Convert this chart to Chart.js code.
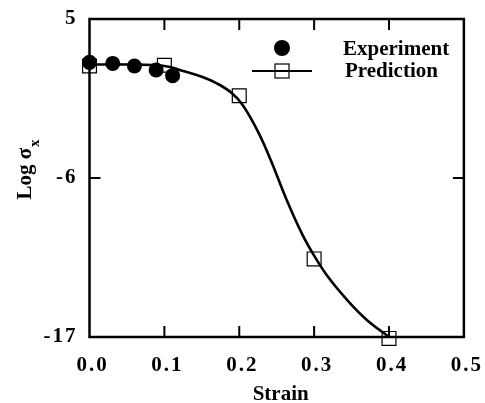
<!DOCTYPE html>
<html>
<head>
<meta charset="utf-8">
<script src="https://cdn.jsdelivr.net/npm/chart.js@4.4.0/dist/chart.umd.min.js"></script>
<style>
    html, body { margin: 0; padding: 0; background: #fff; }
</style>
</head>
<body>
<canvas id="myChart" width="485" height="403"></canvas>
<script>
// data
var expStrain = [0.0, 0.031, 0.06, 0.089, 0.111];
var expLog = [2.0, 1.93, 1.75, 1.47, 1.08];

var predStrain = [0.0, 0.1, 0.2, 0.3, 0.4];
var predLog = [1.75, 1.8, -0.31, -11.6, -17.1];

// prediction curve
var curveStrain = [0.0, 0.05, 0.1, 0.125, 0.15, 0.17, 0.19, 0.205, 0.225, 0.242, 0.262, 0.284, 0.302, 0.32, 0.346, 0.37, 0.4];
var curveLog = [1.85, 1.85, 1.75, 1.4, 1.0, 0.55, -0.12, -0.99, -2.79, -4.75, -7.35, -9.88, -11.54, -12.94, -14.55, -15.8, -17.0];

var xTicks = [0.0, 0.1, 0.2, 0.3, 0.4, 0.5];
var yTicks = [5, -6, -17];

var serif = "'Liberation Serif', 'Times New Roman', serif";

function toPoints(xs, ys) {
    return xs.map(function(x, i) { return {x: x, y: ys[i]}; });
}

// frame, inward ticks, legend and axis titles
var decorPlugin = {
    id: 'decor',
    beforeDraw: function(chart) {
        chart.ctx.letterSpacing = '2px';
    },
    beforeDatasetsDraw: function(chart) {
        chart.ctx.letterSpacing = '0px';
    },
    afterDraw: function(chart) {
        var ctx = chart.ctx;
        var a = chart.chartArea;
        var xs = chart.scales.x;
        var ys = chart.scales.y;
        ctx.save();
        ctx.letterSpacing = '0px';
        ctx.strokeStyle = '#000';
        ctx.lineWidth = 2.5;
        ctx.strokeRect(a.left, a.top, a.right - a.left, a.bottom - a.top);

        var tl = 11;
        ctx.lineWidth = 2;
        ctx.beginPath();
        xTicks.forEach(function(v) {
            if (v <= xs.min || v >= xs.max) return;
            var px = xs.getPixelForValue(v);
            ctx.moveTo(px, a.bottom); ctx.lineTo(px, a.bottom - tl);
            ctx.moveTo(px, a.top); ctx.lineTo(px, a.top + tl);
        });
        yTicks.forEach(function(v) {
            if (v <= ys.min || v >= ys.max) return;
            var py = ys.getPixelForValue(v);
            ctx.moveTo(a.left, py); ctx.lineTo(a.left + tl, py);
            ctx.moveTo(a.right, py); ctx.lineTo(a.right - tl, py);
        });
        ctx.stroke();

        // legend
        ctx.fillStyle = '#000';
        ctx.beginPath();
        ctx.arc(282, 48, 8, 0, Math.PI * 2);
        ctx.fill();
        ctx.lineWidth = 2;
        ctx.beginPath();
        ctx.moveTo(252, 71); ctx.lineTo(312, 71);
        ctx.stroke();
        ctx.lineWidth = 1.2;
        ctx.strokeRect(275, 64, 14, 14);
        ctx.font = 'bold 21px ' + serif;
        ctx.textAlign = 'left';
        ctx.textBaseline = 'alphabetic';
        ctx.fillText('Experiment', 343, 55);
        ctx.fillText('Prediction', 345, 77);

        // x axis title
        ctx.textAlign = 'center';
        ctx.fillText('Strain', (a.left + a.right) / 2 + 4, 400);

        // y axis title with subscript
        ctx.textAlign = 'left';
        ctx.translate(31, 170);
        ctx.rotate(-Math.PI / 2);
        var main = 'Log \u03c3';
        var w1 = ctx.measureText(main).width;
        ctx.font = 'bold 15px ' + serif;
        var w2 = ctx.measureText('x').width;
        var x0 = -(w1 + w2) / 2;
        ctx.font = 'bold 21px ' + serif;
        ctx.fillText(main, x0, 0);
        ctx.font = 'bold 15px ' + serif;
        ctx.fillText('x', x0 + w1 + 1, 8);
        ctx.restore();
    }
};

var ctx = document.getElementById('myChart').getContext('2d');
var myChart = new Chart(ctx, {
    type: 'scatter',
    data: {
        datasets: [{
            label: 'Experiment',
            data: toPoints(expStrain, expLog),
            pointStyle: 'circle',
            pointRadius: 7.5,
            backgroundColor: '#000',
            borderColor: '#000',
            borderWidth: 0,
            showLine: false,
            clip: false,
            order: 0
        }, {
            label: 'Prediction',
            data: toPoints(predStrain, predLog),
            pointStyle: 'rect',
            pointRadius: 9.8,
            backgroundColor: 'rgba(0,0,0,0)',
            borderColor: '#000',
            borderWidth: 1.2,
            showLine: false,
            clip: false,
            order: 1
        }, {
            label: 'curve',
            data: toPoints(curveStrain, curveLog),
            showLine: true,
            pointRadius: 0,
            borderColor: '#000',
            borderWidth: 2.6,
            tension: 0.4,
            fill: false,
            clip: false,
            order: 2
        }]
    },
    options: {
        responsive: false,
        animation: false,
        devicePixelRatio: 1,
        layout: { padding: { top: 19, right: 18, left: 0, bottom: 0 } },
        plugins: {
            legend: { display: false },
            tooltip: { enabled: false }
        },
        scales: {
            x: {
                type: 'linear',
                min: 0,
                max: 0.5,
                afterBuildTicks: function(scale) {
                    scale.ticks = xTicks.map(function(v) { return {value: v}; });
                },
                afterFit: function(scale) { scale.height = 66; },
                grid: { display: false },
                border: { display: false },
                ticks: {
                    autoSkip: false,
                    maxRotation: 0,
                    padding: 8,
                    labelOffset: 3,
                    color: '#000',
                    font: { family: serif, weight: 'bold', size: 21 },
                    callback: function(v) { return v.toFixed(1); }
                },
                title: { display: false }
            },
            y: {
                type: 'linear',
                min: -17,
                max: 5,
                afterBuildTicks: function(scale) {
                    scale.ticks = yTicks.map(function(v) { return {value: v}; });
                },
                afterFit: function(scale) { scale.width = 89.5; },
                grid: { display: false },
                border: { display: false },
                ticks: {
                    padding: 4,
                    color: '#000',
                    font: { family: serif, weight: 'bold', size: 21 }
                },
                title: { display: false }
            }
        }
    },
    plugins: [decorPlugin]
});
</script>
</body>
</html>
